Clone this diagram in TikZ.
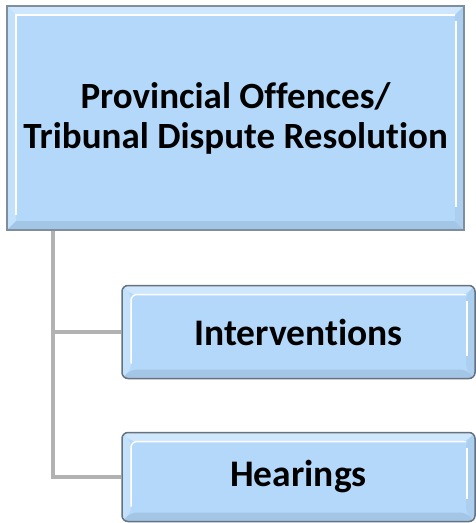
\documentclass[tikz,border=0pt]{standalone}
\usepackage{fontspec}
\setmainfont{Carlito}[Ligatures=NoCommon]
\usetikzlibrary{calc, positioning}
\definecolor{boxblue}{HTML}{B4D8FA}
\definecolor{boxedge}{HTML}{7F8E9C}
\definecolor{bevellight}{HTML}{CFE7FD}
\definecolor{beveldark}{HTML}{A3C6E6}
\definecolor{linkgray}{HTML}{B2B2B2}
\tikzset{
    bevel/.style={
        path picture={
            \coordinate (nw) at (path picture bounding box.north west);
            \coordinate (ne) at (path picture bounding box.north east);
            \coordinate (sw) at (path picture bounding box.south west);
            \coordinate (se) at (path picture bounding box.south east);
            \fill[bevellight] (nw) -- (ne) -- ($(ne)+(-#1,-#1)$) -- ($(nw)+(#1,-#1)$) -- cycle;
            \fill[bevellight!60!boxblue] (nw) -- (sw) -- ($(sw)+(#1,#1)$) -- ($(nw)+(#1,-#1)$) -- cycle;
            \fill[beveldark] (sw) -- (se) -- ($(se)+(-#1,#1)$) -- ($(sw)+(#1,#1)$) -- cycle;
            \fill[beveldark!50!boxblue] (ne) -- (se) -- ($(se)+(-#1,#1)$) -- ($(ne)+(-#1,-#1)$) -- cycle;
            \draw[white, line width=1.5pt] ($(sw)+(#1,#1+6pt)$) -- ($(nw)+(#1,-#1)$) -- ($(ne)+(-#1,-#1)$);
            \draw[white, line width=1.5pt] ($(ne)+(-#1+1pt,-#1-6pt)$) -- ($(se)+(-#1+1pt,#1+14pt)$);
        }
    },
    topbox/.style={draw=boxedge, line width=1.5pt, fill=boxblue, inner sep=0pt,
        bevel=9pt, minimum width=457pt, minimum height=224pt, align=center,
        font=\fontsize{37}{40}\selectfont\bfseries},
    subbox/.style={draw=boxedge!80!black, line width=1.5pt, fill=boxblue, inner sep=0pt,
        bevel=9pt, rounded corners=6pt, minimum width=353pt, align=center,
        font=\fontsize{37.5}{42}\selectfont\bfseries},
    link/.style={draw=linkgray, line width=4pt}
}
\begin{document}
\begin{tikzpicture}[x=1pt, y=-1pt]
    \useasboundingbox (0,0) rectangle (476,523);
    \node[topbox] (prov) at (235.5,118) {Provincial Offences/\\Tribunal Dispute Resolution};
    \node[subbox, minimum height=93pt] (interv) at (298.5,332) {Interventions};
    \node[subbox, minimum height=89pt] (hear) at (298.5,477) {Hearings};
    % connectors
    \coordinate (trunk) at (53,0);
    \coordinate (j1) at (trunk |- interv.west);
    \coordinate (j2) at (trunk |- hear.west);
    \draw[link] (trunk |- prov.south) -- (j2) -- (hear.west);
    \draw[link] (j1) -- (interv.west);
\end{tikzpicture}
\end{document}
